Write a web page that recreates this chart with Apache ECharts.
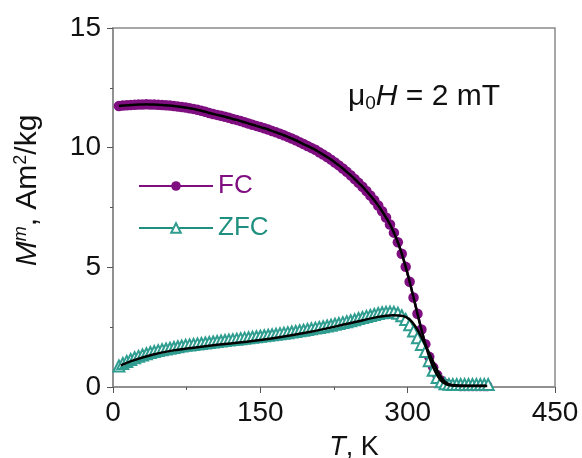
<!DOCTYPE html>
<html>
<head>
<meta charset="utf-8">
<script src="https://cdn.jsdelivr.net/npm/echarts@6/dist/echarts.min.js"></script>
<style>html,body{margin:0;padding:0;background:#fff;}#c{width:582px;height:458px;}</style>
</head>
<body>
<div id="c"></div>
<script>
var fcTemp = [6,10,14,18,22,26,30,34,38,42,46,50,54,58,62,66,70,74,78,82,86,90,94,98,102,106,110,114,118,122,126,130,134,138,142,146,150,154,158,162,166,170,174,178,182,186,190,194,198,202,206,210,214,218,222,226,230,234,238,242,246,250,254,258,262,266,270,274,278,282,286,290,294,298,302,306,310,314,318,322,326,330,334,338,342,346,350,354,358,362,366,370,374,378,381];
var fcMoment = [11.74,11.76,11.77,11.78,11.79,11.80,11.80,11.81,11.80,11.80,11.79,11.78,11.77,11.76,11.74,11.72,11.70,11.68,11.65,11.62,11.58,11.54,11.50,11.45,11.41,11.37,11.33,11.29,11.25,11.20,11.16,11.11,11.06,11.01,10.96,10.91,10.86,10.81,10.76,10.70,10.64,10.58,10.52,10.45,10.38,10.31,10.23,10.15,10.07,9.99,9.91,9.81,9.71,9.61,9.50,9.38,9.26,9.13,8.99,8.85,8.69,8.53,8.37,8.19,8.00,7.80,7.58,7.34,7.08,6.79,6.45,6.05,5.57,5.02,4.40,3.74,3.06,2.40,1.79,1.26,0.82,0.50,0.27,0.14,0.08,0.05,0.05,0.04,0.04,0.04,0.04,0.04,0.04,0.04,0.04];
var zfcTemp = [6,10,14,18,22,26,30,34,38,42,46,50,54,58,62,66,70,74,78,82,86,90,94,98,102,106,110,114,118,122,126,130,134,138,142,146,150,154,158,162,166,170,174,178,182,186,190,194,198,202,206,210,214,218,222,226,230,234,238,242,246,250,254,258,262,266,270,274,278,282,286,290,294,298,302,306,310,314,318,322,326,330,334,338,342,346,350,354,358,362,366,370,374,378,382];
var zfcMoment = [0.88,0.98,1.07,1.15,1.22,1.28,1.34,1.39,1.44,1.48,1.52,1.56,1.59,1.62,1.65,1.68,1.71,1.74,1.76,1.78,1.80,1.82,1.84,1.86,1.88,1.90,1.92,1.94,1.96,1.98,2.00,2.02,2.04,2.06,2.08,2.10,2.12,2.14,2.16,2.18,2.20,2.23,2.25,2.27,2.30,2.32,2.35,2.37,2.40,2.43,2.46,2.49,2.52,2.55,2.58,2.62,2.65,2.69,2.73,2.77,2.81,2.86,2.90,2.95,2.99,3.03,3.07,3.10,3.12,3.13,3.12,3.08,2.98,2.82,2.60,2.34,2.06,1.78,1.48,1.10,0.70,0.40,0.22,0.14,0.11,0.10,0.10,0.10,0.10,0.10,0.10,0.10,0.10,0.10,0.10];
var zfcFitTemp = [8,20,40,60,80,100,150,200,240,270,285,295,302,308,314,320,326,332,338,345,360,380];
var zfcFitMoment = [0.90,1.10,1.35,1.52,1.63,1.73,1.96,2.30,2.65,2.93,3.00,2.97,2.82,2.52,2.08,1.58,1.05,0.55,0.22,0.08,0.05,0.05];
var xTicks = [0,150,300,450];
var yTicks = [0,5,10,15];

var fcColor = '#7f0f80', zfcColor = '#1f9080', zfcMarker = '#2f9d90';
function pairs(a,b){return a.map(function(v,i){return [v,b[i]];});}

var chart = echarts.init(document.getElementById('c'), null, {renderer:'canvas'});
var font = 'Liberation Sans, Arial, sans-serif';
chart.setOption({
  animation:false,
  backgroundColor:'#fff',
  grid:{left:113,right:27,top:28,bottom:71,containLabel:false,outerBoundsMode:'none',
        show:true,borderColor:'#8a8a8a',borderWidth:1.5},
  xAxis:{
    type:'value',min:xTicks[0],max:xTicks[xTicks.length-1],interval:150,
    axisLine:{lineStyle:{color:'#8a8a8a',width:1.5}},
    axisTick:{show:true,inside:false,length:6,lineStyle:{color:'#555',width:1}},
    minorTick:{show:true,splitNumber:2,length:3,lineStyle:{color:'#555'}},
    splitLine:{show:false},
    axisLabel:{fontFamily:font,fontSize:28,color:'#111',margin:12},
    name:'{i|T}, K',nameLocation:'middle',nameGap:47,
    nameTextStyle:{fontFamily:font,fontSize:27,color:'#111',padding:[0,0,0,40],
      rich:{i:{fontStyle:'italic',fontFamily:font,fontSize:27,color:'#111'}}}
  },
  yAxis:{
    type:'value',min:yTicks[0],max:yTicks[yTicks.length-1],interval:5,
    axisLine:{show:true,lineStyle:{color:'#8a8a8a',width:1.5}},
    axisTick:{show:true,inside:false,length:6,lineStyle:{color:'#555',width:1}},
    minorTick:{show:true,splitNumber:2,length:3,lineStyle:{color:'#555'}},
    splitLine:{show:false},
    axisLabel:{fontFamily:font,fontSize:28,color:'#111',margin:12},
    name:'{i|M}{sup|m}, Am{sup2|2}/kg',nameLocation:'middle',nameGap:70,
    nameTextStyle:{fontFamily:font,fontSize:30,color:'#111',padding:[0,0,0,34],
      rich:{i:{fontStyle:'italic',fontFamily:font,fontSize:30,color:'#111'},
            sup:{fontStyle:'italic',fontFamily:font,fontSize:18,color:'#111',padding:[0,0,13,0]},
            sup2:{fontFamily:font,fontSize:18,color:'#111',padding:[0,0,13,0]}}}
  },
  legend:{
    orient:'vertical',left:133,top:168,itemWidth:74,itemHeight:12,itemGap:16,
    textStyle:{fontFamily:font,fontSize:26},
    data:[{name:'FC',textStyle:{color:fcColor}},{name:'ZFC',textStyle:{color:zfcColor}}]
  },
  graphic:[{
    type:'text',left:348,top:82,
    style:{text:'{m|μ}{s|0}{i|H} = 2 mT',fontFamily:font,fontSize:30,fill:'#111',
      rich:{m:{fontFamily:font,fontSize:30,fill:'#111'},
            s:{fontFamily:font,fontSize:19,fill:'#111',padding:[14,0,0,0]},
            i:{fontFamily:font,fontSize:30,fontStyle:'italic',fill:'#111'}}}
  }],
  series:[
    {name:'FC',type:'line',data:pairs(fcTemp,fcMoment),symbol:'circle',symbolSize:10.5,
     lineStyle:{color:fcColor,width:2.5},itemStyle:{color:fcColor},z:2},
    {name:'ZFC',type:'line',data:pairs(zfcTemp,zfcMoment),symbol:'emptyTriangle',symbolSize:11,
     lineStyle:{color:zfcColor,width:2.5},itemStyle:{color:zfcMarker,borderColor:zfcMarker,borderWidth:1},z:2},
    {name:'FC fit',type:'line',data:pairs(fcTemp,fcMoment),symbol:'none',smooth:true,
     lineStyle:{color:'#000',width:2.5},z:4,silent:true},
    {name:'ZFC fit',type:'line',data:pairs(zfcFitTemp,zfcFitMoment),symbol:'none',smooth:0.4,
     lineStyle:{color:'#000',width:2.5},z:4,silent:true}
  ]
});
</script>
</body>
</html>
